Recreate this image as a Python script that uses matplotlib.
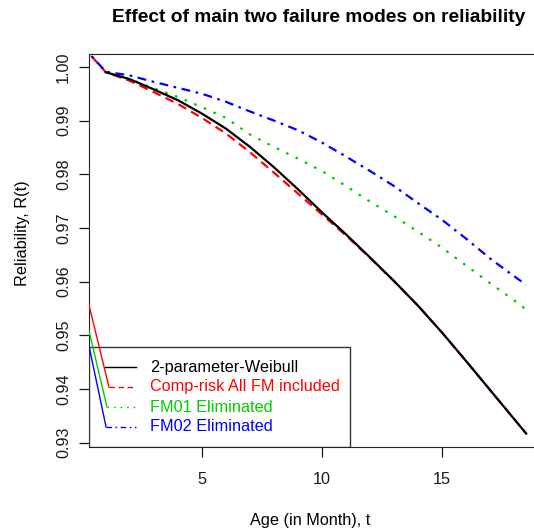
import matplotlib
matplotlib.use("Agg")
import matplotlib.pyplot as plt
from matplotlib.patches import Rectangle

plt.rcParams['font.family'] = ['Liberation Sans', 'DejaVu Sans']

# age in month
t = [1, 2, 3, 4, 5, 6, 7, 8, 9, 10, 11, 12, 13, 14, 15, 16, 17, 18, 18.5]

weibull = [0.9990, 0.9977, 0.9958, 0.9938, 0.9913, 0.9885, 0.9851, 0.9813, 0.9772,
           0.9729, 0.9688, 0.9645, 0.9601, 0.9555, 0.9505, 0.9452, 0.9398, 0.9344, 0.9317]
comp_risk = [0.9990, 0.9974, 0.9953, 0.9931, 0.9905, 0.9876, 0.9841, 0.9803, 0.9764,
             0.9725, 0.9686, 0.9644, 0.9601, 0.9555, 0.9505, 0.9452, 0.9398, 0.9344, 0.9317]
fm01_elim = [0.9990, 0.9977, 0.9960, 0.9944, 0.9925, 0.9905, 0.9874, 0.9851, 0.9829,
             0.9806, 0.9778, 0.9749, 0.9722, 0.9693, 0.9663, 0.9630, 0.9597, 0.9565, 0.9548]
fm02_elim = [0.9991, 0.9984, 0.9972, 0.9961, 0.9950, 0.9935, 0.9917, 0.9900, 0.9882,
             0.9859, 0.9833, 0.9806, 0.9778, 0.9746, 0.9715, 0.9680, 0.9643, 0.9610, 0.9594]

# first point of red / blue sits above the plot (clipped at the corner)
start_val = 1.004

labels = ["2-parameter-Weibull", "Comp-risk All FM included", "FM01 Eliminated", "FM02 Eliminated"]
colors = ["black", "#FF0000", "#00CC00", "#0000FF"]
dashes = [None, (4, 2.5), (1.2, 3.5), (4, 2.5, 1.2, 2.5)]

fig = plt.figure(figsize=(5.34, 5.30), dpi=100)
ax = fig.add_axes([89 / 534, 1 - 447 / 530, (543 - 89) / 534, (447 - 54) / 530])

ax.plot([0] + t, [start_val] + comp_risk, color=colors[1], lw=1.6, dashes=dashes[1])
ax.plot(t, fm01_elim, color=colors[2], lw=1.6, dashes=dashes[2])
ax.plot([0] + t, [start_val] + fm02_elim, color=colors[3], lw=1.6, dashes=dashes[3])
ax.plot(t, weibull, color=colors[0], lw=1.6)

ax.set_xlim(0.3, 19.2)
ax.set_ylim(0.9292, 1.0024)

ax.set_xticks([5, 10, 15])
yt = [0.93, 0.94, 0.95, 0.96, 0.97, 0.98, 0.99, 1.00]
ax.set_yticks(yt)
ax.set_yticklabels(["%.2f" % v for v in yt], rotation=90, va="center")
ax.tick_params(direction="out", length=7, width=0.9, labelsize=11.7, colors="#1a1a1a")
ax.tick_params(axis="x", pad=11)
ax.tick_params(axis="y", pad=6)
ax.spines["right"].set_visible(False)
for s in ["left", "bottom", "top"]:
    ax.spines[s].set_color("#222222")

# legend box (bottom-left), drawn by hand like the R legend
box = Rectangle((0.3, 0.9292), 10.87, 0.94783 - 0.9292, facecolor="white",
                edgecolor="#333333", lw=1, zorder=5)
ax.add_patch(box)
leg_y = [0.94410, 0.94040, 0.93665, 0.93293]
line_start = [0.97, 1.13, 1.05, 1.01]
stray_y = [None, 0.95565, 0.95081, 0.94801]
for i in range(4):
    if dashes[i] is None:
        ax.plot([line_start[i], 2.26], [leg_y[i]] * 2, color=colors[i], lw=1, zorder=6)
    else:
        ax.plot([line_start[i], 2.26], [leg_y[i]] * 2, color=colors[i], lw=1,
                dashes=dashes[i], zorder=6)
    if stray_y[i] is not None:
        ax.plot([0.3, line_start[i]], [stray_y[i], leg_y[i]], color=colors[i], lw=1, zorder=6)
    ax.text(2.84, leg_y[i], labels[i], color=colors[i], fontsize=11.7,
            va="center", ha="left", zorder=7)

fig.text(319 / 534, 1 - 17 / 530, "Effect of main two failure modes on reliability",
         fontsize=13.8, fontweight="bold", ha="center", va="center")
fig.text(310 / 534, 1 - 520 / 530, "Age (in Month), t", fontsize=11.7, ha="center", va="center")
fig.text(23 / 534, 1 - 233 / 530, "Reliability, R(t)", fontsize=11.7, rotation=90,
         ha="center", va="center")

fig.savefig("out.png", dpi=100)
